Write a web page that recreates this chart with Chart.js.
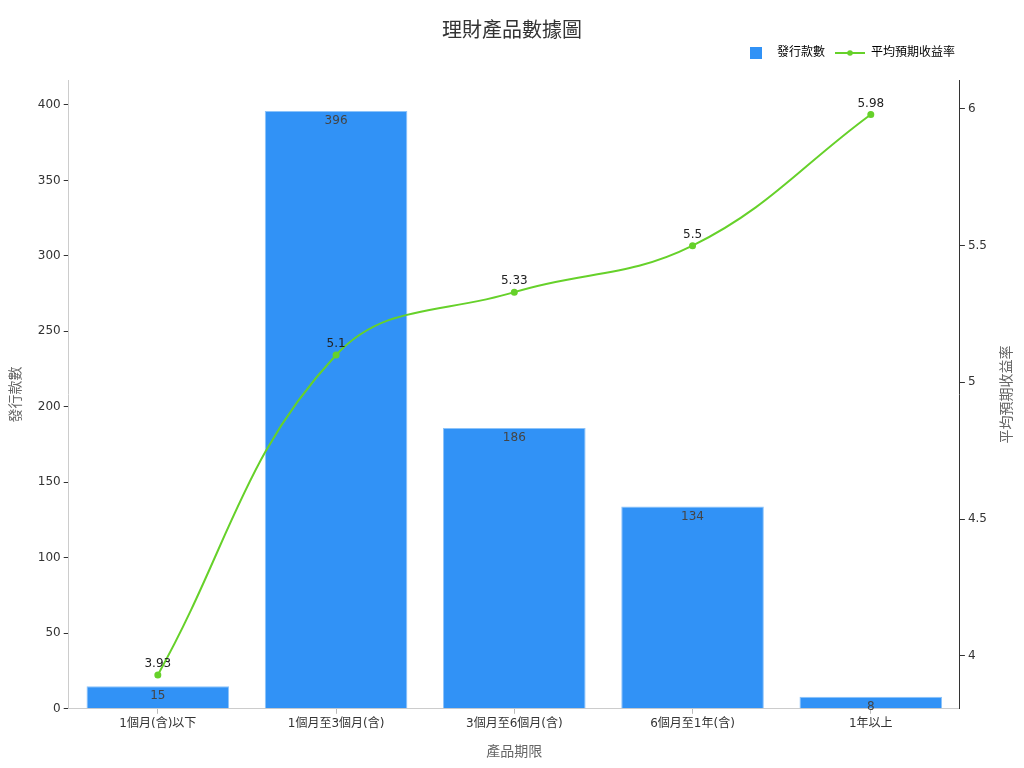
<!DOCTYPE html>
<html lang="zh-Hant">
<head>
    <meta charset="UTF-8">
    <title>理財產品數據圖</title>
    <style>
        body { margin: 0; padding: 0; background: #fff; }
        .wrap { width: 1024px; height: 768px; }
    </style>
</head>
<body>
    <div class="wrap"><canvas id="chart" width="1024" height="768"></canvas></div>
    <script src="https://cdn.jsdelivr.net/npm/chart.js"></script>
    <script>
        const categories = ['1個月(含)以下', '1個月至3個月(含)', '3個月至6個月(含)', '6個月至1年(含)', '1年以上'];
        const productCounts = [15, 396, 186, 134, 8];
        const avgYields = [3.93, 5.1, 5.33, 5.5, 5.98];

        const FONT = '"DejaVu Sans", "Noto Sans CJK TC", sans-serif';
        const BLUE = '#3192f6';
        const GREEN = '#66d12a';

        // legend icons (30px wide slot like the original)
        function squareIcon() {
            const c = document.createElement('canvas');
            c.width = 12; c.height = 12;
            const g = c.getContext('2d');
            g.fillStyle = BLUE;
            g.fillRect(0, 0, 12, 12);
            return c;
        }
        function lineIcon() {
            const c = document.createElement('canvas');
            c.width = 30; c.height = 10;
            const g = c.getContext('2d');
            g.strokeStyle = GREEN;
            g.lineWidth = 2;
            g.beginPath(); g.moveTo(0, 5); g.lineTo(30, 5); g.stroke();
            g.fillStyle = GREEN;
            g.beginPath(); g.arc(15, 5, 2.8, 0, Math.PI * 2); g.fill();
            return c;
        }

        const valueLabels = {
            id: 'valueLabels',
            afterDatasetsDraw(chart) {
                const ctx = chart.ctx;
                ctx.save();
                ctx.font = '12px ' + FONT;
                ctx.textAlign = 'center';
                ctx.textBaseline = 'middle';
                chart.getDatasetMeta(0).data.forEach((bar, i) => {
                    ctx.fillStyle = '#444';
                    ctx.fillText(String(productCounts[i]), bar.x, bar.y + 10);
                });
                chart.getDatasetMeta(1).data.forEach((pt, i) => {
                    ctx.fillStyle = '#222';
                    ctx.fillText(String(avgYields[i]), pt.x, pt.y - 11);
                });
                ctx.restore();
            }
        };

        // page title centred on the canvas, right axis title read bottom-to-top,
        // a bit of extra room under the legend and the legend pulled left
        const frame = {
            id: 'frame',
            beforeLayout(chart) {
                const legend = chart.legend;
                if (legend && !legend._tall) {
                    const fit = legend.fit;
                    legend.fit = function () {
                        fit.call(this);
                        this.height += 11;
                    };
                    legend._tall = true;
                }
            },
            afterLayout(chart) {
                if (chart.legend) chart.legend.right -= 25;
            },
            afterDraw(chart) {
                const ctx = chart.ctx;
                const area = chart.chartArea;
                ctx.save();
                ctx.textAlign = 'center';
                ctx.textBaseline = 'middle';
                ctx.font = '20px ' + FONT;
                ctx.fillStyle = '#333';
                ctx.fillText('理財產品數據圖', chart.width / 2, 32);
                ctx.font = '14px ' + FONT;
                ctx.fillStyle = '#666';
                ctx.translate(1007, (area.top + area.bottom) / 2);
                ctx.rotate(-Math.PI / 2);
                ctx.fillText('平均預期收益率', 0, 0);
                ctx.restore();
            }
        };

        const keepInside = (axis) => {
            axis.ticks = axis.ticks.filter(t => t.value >= axis.min && t.value <= axis.max);
        };

        new Chart(document.getElementById('chart'), {
            data: {
                labels: categories,
                datasets: [{
                    type: 'bar',
                    label: '發行款數',
                    data: productCounts,
                    backgroundColor: BLUE,
                    borderColor: '#8cc3fa',
                    borderWidth: 1,
                    categoryPercentage: 0.8,
                    barPercentage: 1,
                    yAxisID: 'y',
                    order: 2
                }, {
                    type: 'line',
                    label: '平均預期收益率',
                    data: avgYields,
                    borderColor: GREEN,
                    backgroundColor: GREEN,
                    borderWidth: 2,
                    pointRadius: 2.5,
                    pointHoverRadius: 3,
                    tension: 0.4,
                    yAxisID: 'y1',
                    order: 1
                }]
            },
            plugins: [valueLabels, frame],
            options: {
                responsive: false,
                animation: false,
                layout: { padding: { left: 4, right: 34, top: 37, bottom: 3 } },
                plugins: {
                    title: { display: false },
                    legend: {
                        position: 'top',
                        align: 'end',
                        labels: {
                            color: '#333',
                            font: { family: FONT, size: 12 },
                            usePointStyle: true,
                            pointStyleWidth: 30,
                            boxHeight: 12,
                            padding: 10,
                            generateLabels() {
                                return [{
                                    text: '發行款數',
                                    fillStyle: BLUE,
                                    strokeStyle: BLUE,
                                    lineWidth: 0,
                                    pointStyle: squareIcon(),
                                    datasetIndex: 0
                                }, {
                                    text: '平均預期收益率',
                                    fillStyle: GREEN,
                                    strokeStyle: GREEN,
                                    lineWidth: 0,
                                    pointStyle: lineIcon(),
                                    datasetIndex: 1
                                }];
                            }
                        }
                    },
                    tooltip: { enabled: false }
                },
                scales: {
                    x: {
                        offset: true,
                        grid: { offset: false, drawOnChartArea: false, drawTicks: true, tickLength: 5, color: '#bbb' },
                        border: { color: '#ccc' },
                        ticks: { color: '#333', font: { family: FONT, size: 12 }, maxRotation: 0 },
                        title: {
                            display: true,
                            text: '產品期限',
                            color: '#666',
                            font: { family: FONT, size: 14 },
                            padding: { top: 10 }
                        }
                    },
                    y: {
                        position: 'left',
                        min: 0,
                        max: 416.5,
                        afterBuildTicks: keepInside,
                        ticks: { stepSize: 50, includeBounds: false, color: '#333', font: { family: FONT, size: 12 } },
                        grid: { drawOnChartArea: false, drawTicks: true, tickLength: 5, color: '#333' },
                        border: { color: '#ccc' },
                        title: {
                            display: true,
                            text: '發行款數',
                            color: '#666',
                            font: { family: FONT, size: 14 },
                            padding: { bottom: 10 }
                        }
                    },
                    y1: {
                        position: 'right',
                        min: 3.806,
                        max: 6.106,
                        afterBuildTicks: keepInside,
                        ticks: {
                            stepSize: 0.5,
                            includeBounds: false,
                            color: '#333',
                            font: { family: FONT, size: 12 },
                            callback: (v) => String(Math.round(v * 10) / 10)
                        },
                        grid: { drawOnChartArea: false, drawTicks: true, tickLength: 5, color: '#333' },
                        border: { color: '#333' }
                    }
                }
            }
        });
    </script>
</body>
</html>
